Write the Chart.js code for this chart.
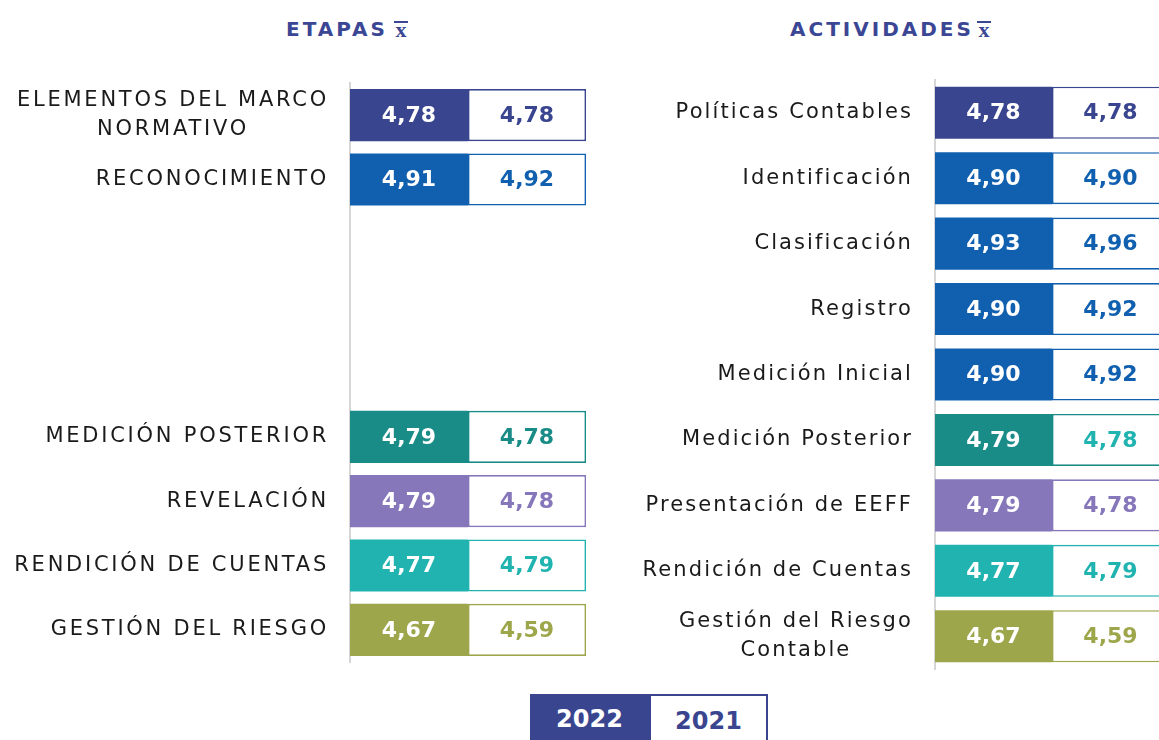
<!DOCTYPE html>
<html>
<head>
<meta charset="utf-8">
<script src="https://cdn.jsdelivr.net/npm/chart.js@4.4.1/dist/chart.umd.min.js"></script>
<style>
  html, body { margin: 0; padding: 0; background: #fff; }
  body { width: 1159px; height: 740px; position: relative; overflow: hidden; font-family: "DejaVu Sans", sans-serif; }
  .title { position: absolute; top: 17px; font-weight: bold; font-size: 20px; letter-spacing: 3px; color: #3b4794; white-space: nowrap; }
  .xbar { position: absolute; top: 21px; width: 14px; border-top: 2px solid #3b4794; font-family: "Liberation Serif", serif; font-weight: bold; font-size: 22px; line-height: 14px; text-align: center; color: #3b4794; }
  .box { position: absolute; }
  #leg { position: absolute; left: 530px; top: 694px; height: 60px; display: flex; }
  #leg div { width: 119px; height: 56px; box-sizing: border-box; font-weight: bold; font-size: 24px; text-align: center; line-height: 50px; }
  #leg .a { background: #3a4590; color: #fff; }
  #leg .b { background: #fff; color: #3a4590; border: 2px solid #3a4590; border-bottom: none; }
</style>
</head>
<body>
<div class="title" style="left:286px;">ETAPAS</div><div class="xbar" style="left:394px;">x</div>
<div class="title" style="left:790px;">ACTIVIDADES</div><div class="xbar" style="left:977px;">x</div>
<div class="box" style="left:0px; top:0px; width:600px; height:740px;"><canvas id="c1"></canvas></div>
<div class="box" style="left:585px; top:0px; width:600px; height:740px;"><canvas id="c2"></canvas></div>
<div id="leg"><div class="a">2022</div><div class="b">2021</div></div>
<script>
// ---- data ----
const seriesNames = ['2022', '2021'];
const etapasLabels = [['ELEMENTOS DEL MARCO', 'NORMATIVO'], 'RECONOCIMIENTO', '', '', '', 'MEDICIÓN POSTERIOR', 'REVELACIÓN', 'RENDICIÓN DE CUENTAS', 'GESTIÓN DEL RIESGO'];
const etapas2022 = [4.78, 4.91, null, null, null, 4.79, 4.79, 4.77, 4.67];
const etapas2021 = [4.78, 4.92, null, null, null, 4.78, 4.78, 4.79, 4.59];
const actividadesLabels = ['Políticas Contables', 'Identificación', 'Clasificación', 'Registro', 'Medición Inicial', 'Medición Posterior', 'Presentación de EEFF', 'Rendición de Cuentas', ['Gestión del Riesgo', 'Contable']];
const actividades2022 = [4.78, 4.90, 4.93, 4.90, 4.90, 4.79, 4.79, 4.77, 4.67];
const actividades2021 = [4.78, 4.90, 4.96, 4.92, 4.92, 4.78, 4.78, 4.79, 4.59];

// ---- styles ----
const NAVY = '#3a4590', BLUE = '#1160b0', TEAL = '#1a8c87', PURPLE = '#8677bb', TURQ = '#20b3b0', OLIVE = '#9ea64b';
const etapasColors = [NAVY, BLUE, BLUE, BLUE, BLUE, TEAL, PURPLE, TURQ, OLIVE];
const etapasText2021 = [NAVY, BLUE, BLUE, BLUE, BLUE, TEAL, PURPLE, TURQ, OLIVE];
const actividadesColors = [NAVY, BLUE, BLUE, BLUE, BLUE, TEAL, PURPLE, TURQ, OLIVE];
const actividadesText2021 = [NAVY, BLUE, BLUE, BLUE, BLUE, TURQ, PURPLE, TURQ, OLIVE];
const FONT = '"DejaVu Sans", sans-serif';

// each value occupies one equal-width table cell
const cell = arr => arr.map(v => v == null ? null : 1);
const fmt = v => v.toFixed(2).replace('.', ',');

const valueLabels = {
  id: 'valueLabels',
  afterDatasetsDraw(chart) {
    const ctx = chart.ctx;
    ctx.save();
    ctx.font = 'bold 22px ' + FONT;
    ctx.textAlign = 'center';
    ctx.textBaseline = 'middle';
    chart.data.datasets.forEach((ds, di) => {
      const meta = chart.getDatasetMeta(di);
      meta.data.forEach((el, i) => {
        const v = ds.values[i];
        if (v == null) return;
        const cx = (el.base + el.x) / 2;
        ctx.fillStyle = ds.textColors[i];
        ctx.fillText(fmt(v), cx, el.y + 1);
      });
    });
    ctx.restore();
  }
};

// category labels: right-aligned block, lines centred within the block
const catLabels = {
  id: 'catLabels',
  afterDraw(chart, args, opts) {
    const ctx = chart.ctx;
    const y = chart.scales.y;
    ctx.save();
    ctx.font = '21px ' + FONT;
    ctx.letterSpacing = opts.spacing + 'px';
    ctx.fillStyle = '#1a1a1a';
    ctx.textAlign = 'center';
    ctx.textBaseline = 'middle';
    const right = y.right - opts.padding + 1;
    const lh = 29;
    chart.data.labels.forEach((lab, i) => {
      const lines = Array.isArray(lab) ? lab : [lab];
      if (!lines[0]) return;
      const w = Math.max(...lines.map(l => ctx.measureText(l).width));
      const cx = right - w / 2;
      const cy = y.getPixelForTick(i);
      lines.forEach((l, k) => {
        ctx.fillText(l, cx, cy + (k - (lines.length - 1) / 2) * lh);
      });
    });
    ctx.restore();
  }
};

function build(id, labels, v22, v21, colors, text21, pad, tickPad, spacing, barPct) {
  return new Chart(document.getElementById(id), {
    type: 'bar',
    data: {
      labels: labels,
      datasets: [
        { label: seriesNames[0], data: cell(v22), values: v22, textColors: v22.map(() => '#ffffff'),
          backgroundColor: colors, borderWidth: 0 },
        { label: seriesNames[1], data: cell(v21), values: v21, textColors: text21,
          backgroundColor: '#ffffff', borderColor: colors, borderWidth: 1.6, borderSkipped: false }
      ]
    },
    plugins: [valueLabels, catLabels],
    options: {
      indexAxis: 'y',
      responsive: true,
      maintainAspectRatio: false,
      animation: false,
      datasets: { bar: { categoryPercentage: 1, barPercentage: barPct } },
      layout: { padding: pad },
      plugins: { legend: { display: false }, tooltip: { enabled: false },
                 catLabels: { padding: tickPad, spacing: spacing } },
      scales: {
        x: { stacked: true, min: 0, max: 2, display: false },
        y: {
          stacked: true,
          afterFit(scale) { scale.width = 350; },
          grid: { display: false, drawTicks: false },
          border: { display: true, color: '#d6d6d6', width: 2 },
          ticks: { display: false }
        }
      }
    }
  });
}

build('c1', etapasLabels, etapas2022, etapas2021, etapasColors, etapasText2021,
  { top: 83, bottom: 78, left: 0, right: 14 }, 22, 2.75, 0.81);
build('c2', actividadesLabels, actividades2022, actividades2021, actividadesColors, actividadesText2021,
  { top: 80, bottom: 71, left: 0, right: 16 }, 23, 2.1, 0.795);
</script>
</body>
</html>
